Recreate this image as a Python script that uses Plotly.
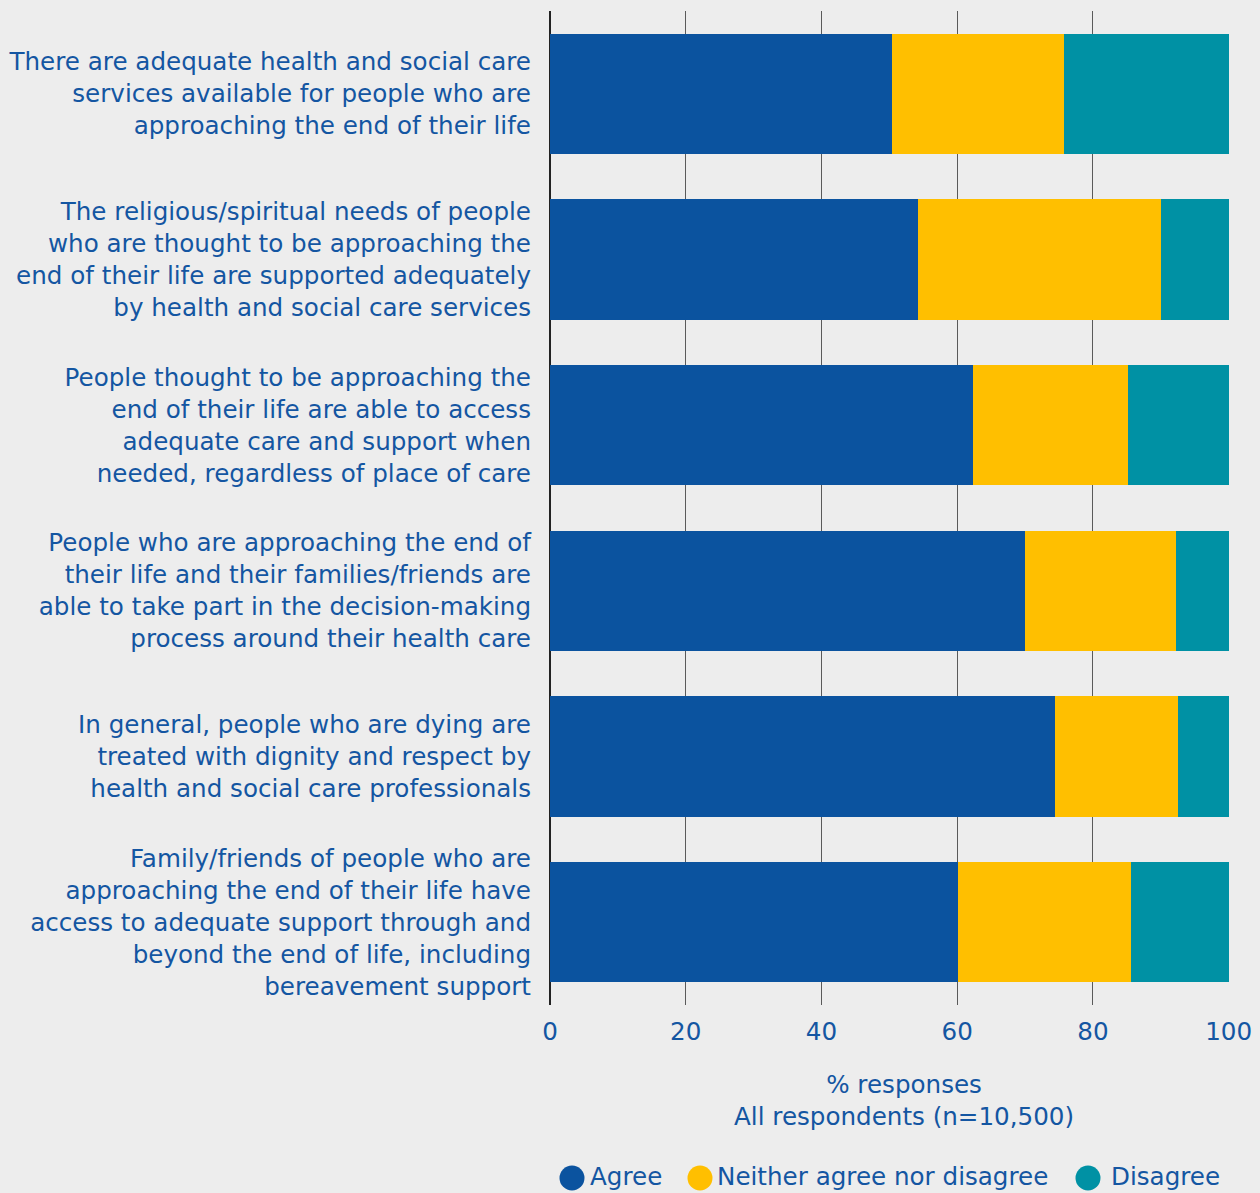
import plotly.graph_objects as go

# Survey statements (top to bottom) and response shares (%)
statements = [
    "There are adequate health and social care<br>services available for people who are<br>approaching the end of their life",
    "The religious/spiritual needs of people<br>who are thought to be approaching the<br>end of their life are supported adequately<br>by health and social care services",
    "People thought to be approaching the<br>end of their life are able to access<br>adequate care and support when<br>needed, regardless of place of care",
    "People who are approaching the end of<br>their life and their families/friends are<br>able to take part in the decision-making<br>process around their health care",
    "In general, people who are dying are<br>treated with dignity and respect by<br>health and social care professionals",
    "Family/friends of people who are<br>approaching the end of their life have<br>access to adequate support through and<br>beyond the end of life, including<br>bereavement support",
]
agree = [50.4, 54.2, 62.3, 70.0, 74.4, 60.1]
neither = [25.3, 35.8, 22.8, 22.2, 18.1, 25.5]
disagree = [24.3, 10.0, 14.9, 7.8, 7.5, 14.4]

series_names = ["Agree", "Neither agree nor disagree", "Disagree"]
series_values = [agree, neither, disagree]
colors = ["#0b539f", "#ffbf00", "#0091a4"]

x_ticks = [0, 20, 40, 60, 80, 100]
axis_title = "% responses<br>All respondents (n=10,500)"

TEXT = "#1456a2"
FONT = "DejaVu Sans"
FS = 24.6

# Plot area in pixels (used to convert legend/title positions to paper coords)
W, H = 1260, 1193
L, R, T, B = 550, 31, 11, 188
PW, PH = W - L - R, H - T - B


def px_x(px):
    return (px - L) / PW


def px_y(py):
    return (H - B - py) / PH


fig = go.Figure()
for name, vals, col in zip(series_names, series_values, colors):
    fig.add_trace(go.Bar(
        y=statements, x=vals, name=name, orientation="h",
        marker=dict(color=col, line=dict(width=0)),
        showlegend=False,
    ))

# Legend: round swatches followed by series names
legend_swatch_x = [572, 700, 1088]
legend_text_x = [588, 715, 1109]
legend_y = 1176
shapes = []
annotations = []
for name, col, cx, tx in zip(series_names, colors, legend_swatch_x, legend_text_x):
    shapes.append(dict(
        type="circle", xref="paper", yref="paper",
        xsizemode="pixel", ysizemode="pixel",
        xanchor=px_x(cx), yanchor=px_y(legend_y + 2),
        x0=-12.5, x1=12.5, y0=-12.5, y1=12.5,
        fillcolor=col, line=dict(width=0),
    ))
    annotations.append(dict(
        text=name, xref="paper", yref="paper",
        x=px_x(tx), y=px_y(legend_y), xanchor="left", yanchor="middle",
        showarrow=False, font=dict(family=FONT, size=FS, color=TEXT),
    ))

# Axis title below the tick labels
annotations.append(dict(
    text=axis_title, xref="paper", yref="paper",
    x=px_x(904), y=px_y(1100), xanchor="center", yanchor="middle",
    showarrow=False, align="center",
    font=dict(family=FONT, size=FS, color=TEXT),
))

fig.update_layout(
    width=W, height=H,
    barmode="stack", bargap=0.275,
    paper_bgcolor="#ededed", plot_bgcolor="#ededed",
    margin=dict(l=L, r=R, t=T, b=B),
    font=dict(family=FONT, size=FS, color=TEXT),
    showlegend=False,
    shapes=shapes,
    annotations=annotations,
    xaxis=dict(
        range=[0, 100.05], tickvals=x_ticks, showgrid=True,
        gridcolor="#5a5a5a", gridwidth=1,
        zeroline=True, zerolinecolor="#222222", zerolinewidth=1.5,
        tickfont=dict(size=FS, color=TEXT), ticklabelstandoff=9,
        automargin=False, fixedrange=True,
    ),
    yaxis=dict(
        autorange="reversed", showgrid=False, zeroline=False,
        tickfont=dict(size=FS, color=TEXT), ticklabelstandoff=18,
        automargin=False, fixedrange=True,
    ),
)

fig.write_html("out.html")
